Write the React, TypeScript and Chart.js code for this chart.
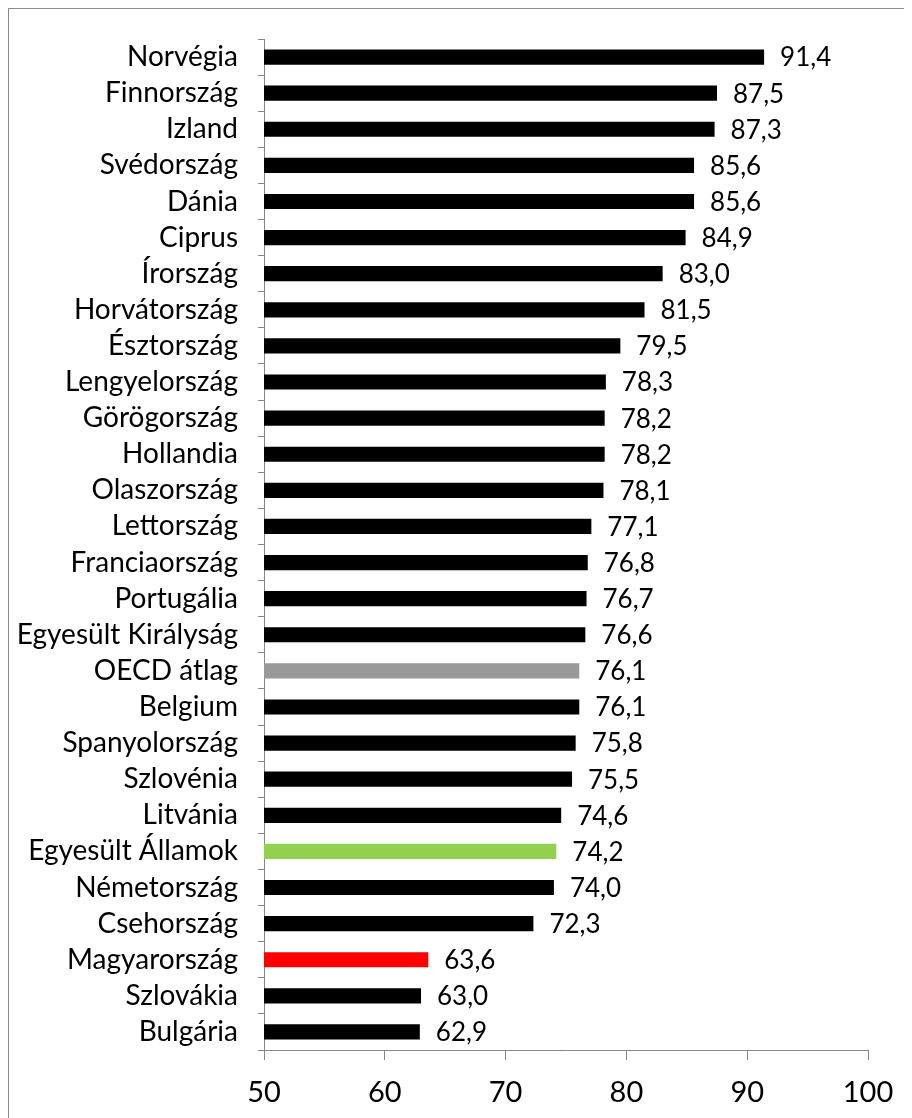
import React, { useEffect, useRef } from "react";
import { Chart, registerables } from "chart.js";

Chart.register(...registerables);

const countries: string[] = [
  "Norvégia", "Finnország", "Izland", "Svédország", "Dánia", "Ciprus", "Írország",
  "Horvátország", "Észtország", "Lengyelország", "Görögország", "Hollandia",
  "Olaszország", "Lettország", "Franciaország", "Portugália", "Egyesült Királyság",
  "OECD átlag", "Belgium", "Spanyolország", "Szlovénia", "Litvánia",
  "Egyesült Államok", "Németország", "Csehország", "Magyarország", "Szlovákia", "Bulgária",
];

const values: number[] = [
  91.4, 87.5, 87.3, 85.6, 85.6, 84.9, 83.0, 81.5, 79.5, 78.3, 78.2, 78.2, 78.1, 77.1,
  76.8, 76.7, 76.6, 76.1, 76.1, 75.8, 75.5, 74.6, 74.2, 74.0, 72.3, 63.6, 63.0, 62.9,
];

const highlightColors: Record<string, string> = {
  "OECD átlag": "#999999",
  "Egyesült Államok": "#92d050",
  "Magyarország": "#ff0000",
};

const xMin = 50;
const xMax = 100;
const xStep = 10;

const FONT = "Lato, 'Open Sans', sans-serif";

const valueLabelPlugin = {
  id: "valueLabels",
  afterDatasetsDraw(chart: any) {
    const ctx = chart.ctx;
    const meta = chart.getDatasetMeta(0);
    ctx.save();
    ctx.font = `26px ${FONT}`;
    ctx.fillStyle = "#000000";
    ctx.textAlign = "left";
    ctx.textBaseline = "middle";
    meta.data.forEach((bar: any, i: number) => {
      const txt = values[i].toFixed(1).replace(".", ",");
      ctx.fillText(txt, bar.x + 16, bar.y + 1);
    });
    ctx.restore();
  },
};

export default function App() {
  const ref = useRef<HTMLCanvasElement | null>(null);
  useEffect(() => {
    if (!ref.current) return;
    const chart = new Chart(ref.current, {
      type: "bar",
      data: {
        labels: countries,
        datasets: [
          {
            data: values,
            backgroundColor: countries.map((c) => highlightColors[c] || "#000000"),
            barPercentage: 0.42,
            categoryPercentage: 1,
          },
        ],
      },
      options: {
        indexAxis: "y",
        animation: false,
        responsive: false,
        maintainAspectRatio: false,
        layout: { padding: { top: 30, right: 41, bottom: 0, left: 0 } },
        plugins: { legend: { display: false }, tooltip: { enabled: false } },
        scales: {
          x: {
            min: xMin,
            max: xMax,
            ticks: {
              stepSize: xStep,
              color: "#000000",
              font: { family: FONT, size: 29 },
              padding: 15,
            },
            grid: {
              drawOnChartArea: false,
              drawTicks: true,
              tickLength: 10,
              color: "#868686",
            },
            border: { display: true, color: "#868686", width: 1 },
            afterFit: (scale: any) => {
              scale.height = 64;
            },
          },
          y: {
            ticks: {
              color: "#000000",
              font: { family: FONT, size: 28 },
              padding: 20,
              autoSkip: false,
            },
            grid: {
              offset: true,
              drawOnChartArea: false,
              drawTicks: true,
              tickLength: 6,
              color: "#868686",
            },
            border: { display: true, color: "#868686", width: 1 },
            afterFit: (scale: any) => {
              scale.width = 255;
              scale.paddingTop = 0;
              scale.paddingBottom = 0;
            },
          },
        },
      },
      plugins: [valueLabelPlugin],
    });
    return () => chart.destroy();
  }, []);

  return (
    <div
      style={{
        position: "relative",
        width: 920,
        height: 1200,
        border: "1px solid #8c8c8c",
        boxSizing: "border-box",
        background: "#ffffff",
      }}
    >
      <canvas
        ref={ref}
        width={900}
        height={1105}
        style={{ position: "absolute", left: 0, top: 0, width: 900, height: 1105 }}
      />
    </div>
  );
}
